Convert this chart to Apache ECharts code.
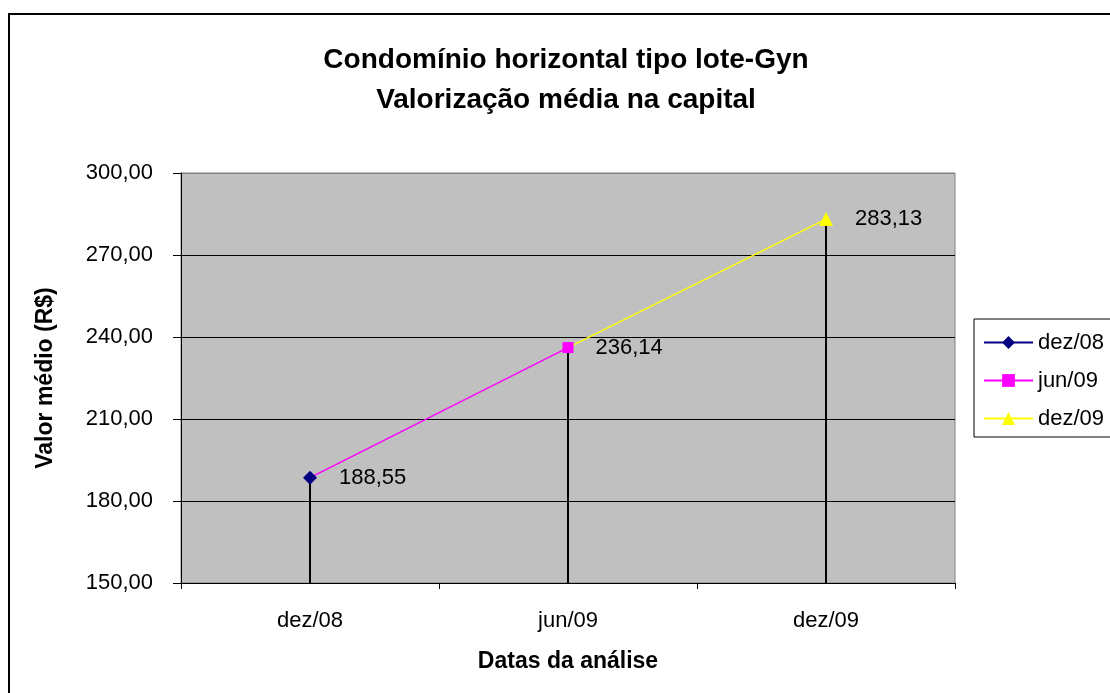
<!DOCTYPE html>
<html>
<head>
<meta charset="utf-8">
<script src="https://cdn.jsdelivr.net/npm/echarts@6/dist/echarts.min.js"></script>
<style>
html, body { margin: 0; padding: 0; background: #fff; }
#chart { width: 1110px; height: 693px; }
</style>
</head>
<body>
<div id="chart"></div>
<script>
// datas e valores medios
var categories = ['dez/08', 'jun/09', 'dez/09'];
var values = [188.55, 236.14, 283.13];
var seriesColors = ['#000080', '#FF00FF', '#FFFF00'];
var seriesSymbols = ['diamond', 'rect', 'triangle'];
var symbolSizes = [14, 11, 14];
var yMin = 150, yMax = 300, yStep = 30;

var FONT = 'Liberation Sans, Arial, sans-serif';

function fmt(v) {
	return v.toFixed(2).replace('.', ',');
}

// uma serie por data: linha do ponto anterior ate o ponto atual
var lineSeries = categories.map(function (name, i) {
	var data = categories.map(function (c, j) {
		if (j === i) {
			return {
				value: values[j],
				label: {
					show: true, position: 'right', distance: 22,
					formatter: function (p) { return fmt(p.value); },
					color: '#000', fontFamily: FONT, fontSize: 22
				}
			};
		}
		if (j === i - 1) return { value: values[j], symbol: 'none' };
		return '-';
	});
	return {
		name: name,
		type: 'line',
		data: data,
		symbol: seriesSymbols[i],
		symbolSize: symbolSizes[i],
		itemStyle: { color: seriesColors[i] },
		lineStyle: { color: seriesColors[i], width: 1.5 },
		z: 10 - i,
		animation: false
	};
});

// linhas verticais ate o eixo
var dropSeries = {
	name: 'drop',
	type: 'bar',
	data: values,
	barWidth: 2,
	itemStyle: { color: '#000' },
	z: 1,
	animation: false
};

var chart = echarts.init(document.getElementById('chart'));
chart.setOption({
	backgroundColor: '#fff',
	title: {
		text: 'Condomínio horizontal tipo lote-Gyn\nValorização média na capital',
		left: 566,
		textAlign: 'center',
		top: 40,
		padding: 0,
		textStyle: { fontFamily: FONT, fontSize: 28, fontWeight: 'bold', lineHeight: 40, color: '#000' }
	},
	graphic: [{
		type: 'rect',
		shape: { x: 9, y: 14, width: 1300, height: 900 },
		style: { fill: 'none', stroke: '#000', lineWidth: 2 },
		z: 100
	}],
	legend: {
		data: categories,
		left: 974,
		top: 319,
		orient: 'vertical',
		padding: [12, 10, 7, 9],
		itemGap: 15,
		itemWidth: 49,
		itemHeight: 16,
		borderColor: '#000',
		borderWidth: 1,
		textStyle: { fontFamily: FONT, fontSize: 22, color: '#000', lineHeight: 23 }
	},
	grid: {
		left: 181, top: 173, width: 774, height: 410,
		show: true, backgroundColor: '#C0C0C0', borderColor: '#808080', borderWidth: 1
	},
	xAxis: {
		type: 'category',
		data: categories,
		boundaryGap: true,
		name: 'Datas da análise',
		nameLocation: 'middle',
		nameGap: 67,
		nameTextStyle: { fontFamily: FONT, fontSize: 23, fontWeight: 'bold', color: '#000' },
		axisLine: { lineStyle: { color: '#000', width: 1 } },
		axisTick: { show: true, length: 6, lineStyle: { color: '#000' } },
		axisLabel: { margin: 27, fontFamily: FONT, fontSize: 22, color: '#000' }
	},
	yAxis: {
		type: 'value',
		min: yMin, max: yMax, interval: yStep,
		name: 'Valor médio (R$)',
		nameLocation: 'middle',
		nameGap: 124,
		nameTextStyle: { fontFamily: FONT, fontSize: 23, fontWeight: 'bold', color: '#000' },
		axisLine: { show: true, lineStyle: { color: '#000', width: 1 } },
		axisTick: { show: true, length: 8, lineStyle: { color: '#000' } },
		axisLabel: { margin: 28, fontFamily: FONT, fontSize: 22, color: '#000', formatter: function (v) { return fmt(v); } },
		splitLine: { show: true, lineStyle: { color: ['#000', '#000', '#000', '#000', '#000', '#808080'], width: 1 } }
	},
	series: [dropSeries].concat(lineSeries)
});
</script>
</body>
</html>
